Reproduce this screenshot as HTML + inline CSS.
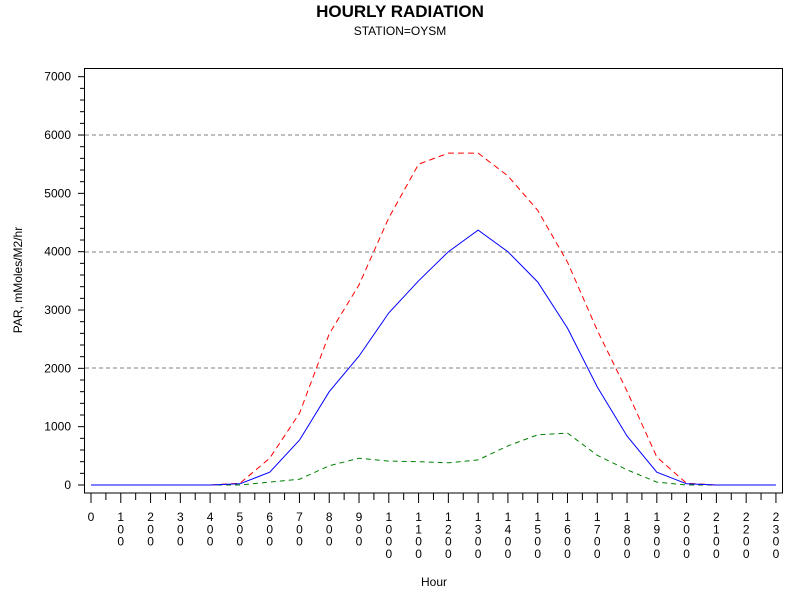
<!DOCTYPE html>
<html><head><style>body{margin:0;background:#fff}svg{display:block}text{font-family:"Liberation Sans",Arial,sans-serif}</style></head>
<body>
<svg width="800" height="600" xmlns="http://www.w3.org/2000/svg">
<rect width="800" height="600" fill="#fff"/>
<text x="400" y="17" text-anchor="middle" font-size="17" font-weight="bold">HOURLY RADIATION</text>
<text x="400" y="35" text-anchor="middle" font-size="12">STATION=OYSM</text>
<g stroke="#808080" stroke-dasharray="4,3" stroke-width="1">
<line x1="85" y1="135" x2="783" y2="135"/><line x1="85" y1="252" x2="783" y2="252"/><line x1="85" y1="368" x2="783" y2="368"/>
</g>
<rect x="84.5" y="68.5" width="698" height="424.5" fill="none" stroke="#000" stroke-width="1"/>
<g id="yt" stroke="#000"></g>
<g id="xt" stroke="#000"></g>
<g id="yl" font-size="12" text-anchor="end"></g>
<g id="xl" font-size="12" text-anchor="middle"></g>
<text transform="translate(22,280) rotate(-90)" text-anchor="middle" font-size="12">PAR, mMoles/M2/hr</text>
<text x="434" y="586" text-anchor="middle" font-size="12">Hour</text>
<polyline id="g" fill="none" stroke="#008000" stroke-dasharray="5,4" stroke-width="1"/>
<polyline id="r" fill="none" stroke="#ff0000" stroke-dasharray="6,4" stroke-width="1"/>
<polyline id="b" fill="none" stroke="#0000ff" stroke-width="1"/>
</svg>
<script>
const X=h=>91+h*29.78,Y=v=>485-v*0.05833;
const ns="http://www.w3.org/2000/svg";
function el(p,t,a,txt){const e=document.createElementNS(ns,t);for(const k in a)e.setAttribute(k,a[k]);if(txt!=null)e.textContent=txt;document.getElementById(p).appendChild(e);}
for(let v=0;v<=7000;v+=200){const y=Y(v);el('yt','line',{x1:v%1000?80:78,x2:84.5,y1:y,y2:y});if(v%1000==0)el('yl','text',{x:71,y:y+4},v);}
for(let h=0;h<=23;h+=0.5){const x=X(h);el('xt','line',{x1:x,x2:x,y1:493,y2:h%1?500:503});
if(h%1==0){const s=String(h*100);[...s].forEach((c,i)=>el('xl','text',{x:x,y:521+i*12.3},c));}}
const B=[0,0,0,0,0,20,220,770,1600,2210,2950,3500,4000,4370,4000,3480,2690,1680,840,220,20,0,0,0];
const R=[0,0,0,0,0,30,460,1230,2590,3430,4580,5500,5690,5690,5300,4710,3820,2650,1610,480,30,0,0,0];
const G=[0,0,0,0,0,0,50,100,330,460,410,400,380,430,670,860,890,510,260,50,0,0,0,0];
const pts=a=>a.map((v,i)=>X(i).toFixed(1)+','+Y(v).toFixed(1)).join(' ');
document.getElementById('b').setAttribute('points',pts(B));
document.getElementById('r').setAttribute('points',pts(R));
document.getElementById('g').setAttribute('points',pts(G));
</script>
</body></html>
